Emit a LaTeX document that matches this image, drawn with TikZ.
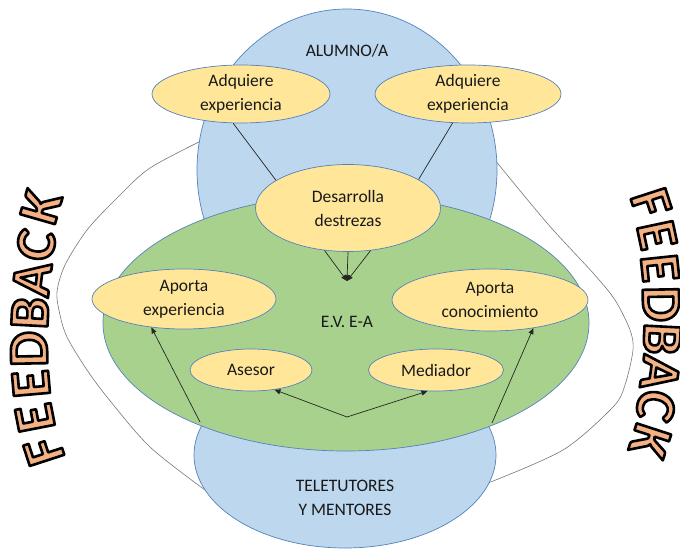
\documentclass[tikz,border=0pt]{standalone}
\usepackage{fontspec}
\setmainfont{Carlito}
\usetikzlibrary{shapes.geometric,arrows.meta}
\definecolor{bblue}{RGB}{189,215,238}
\definecolor{ggreen}{RGB}{169,209,142}
\definecolor{yyel}{RGB}{255,230,153}
\definecolor{edgeblue}{RGB}{84,130,188}
\definecolor{fborange}{RGB}{244,177,131}
\definecolor{loopgray}{RGB}{118,118,118}
\newcommand{\fbletter}[1]{\special{pdf:literal direct 0 0 0 RG 2.6 w 1 j 2 Tr}#1\special{pdf:literal direct 0 Tr}}
\begin{document}
\begin{tikzpicture}[x=1pt,y=-1pt,
  big/.style={ellipse, draw=edgeblue, line width=0.7pt, inner sep=0pt},
  bubble/.style={ellipse, draw=edgeblue, fill=yyel, line width=0.7pt, inner sep=0pt},
  lbl/.style={align=center, font=\fontsize{17.5}{24}\selectfont, inner sep=0pt, text=black!90},
  link/.style={draw=black!85, line width=0.7pt},
  arr/.style={link, -{Triangle[length=6pt,width=5pt]}},
  fbl/.style={text=fborange, inner sep=0pt, font=\fontsize{56}{56}\bfseries\selectfont},
  loopline/.style={draw=loopgray, line width=0.6pt}]
\useasboundingbox (0,0) rectangle (680,553);

% feedback loop lines
\draw[loopline] plot[smooth] coordinates {(205,139) (150,168) (118,197) (87,230) (65,265) (57,292) (60,315) (67,337) (85,367) (107,397) (150,447) (205,490)};
\draw[loopline] plot[smooth] coordinates {(490,154) (547,223) (593,273) (615,300) (630,330) (633,350) (625,385) (613,407) (563,450) (488,483)};

% big shapes
\node[big, fill=bblue, minimum width=300pt, minimum height=322pt] (alumno) at (347,170) {};
\node[big, fill=bblue, minimum width=302pt, minimum height=186pt] (tutor) at (345,455) {};
\node[big, fill=ggreen, minimum width=486pt, minimum height=256pt] (eve) at (346,323) {};

\node[lbl] (alumnoT) at (347,51) {ALUMNO/A};
\node[lbl] (tutorT) at (345,498) {TELETUTORES\\Y MENTORES};
\node[lbl] (eveT) at (347,322) {E.V. E-A};

% bubbles
\node[bubble, minimum width=178pt, minimum height=58pt] (adqL) at (241,94) {};
\node[lbl] (adqLt) at (adqL) {Adquiere\\experiencia};
\node[bubble, minimum width=186pt, minimum height=58pt] (adqR) at (468,94) {};
\node[lbl] (adqRt) at (adqR) {Adquiere\\experiencia};
\node[bubble, minimum width=185pt, minimum height=87pt] (des) at (348,208) {};
\node[lbl] (dest) at (des) {Desarrolla\\destrezas};
\node[bubble, minimum width=184pt, minimum height=60pt] (apExp) at (184,299) {};
\node[lbl] (apExpt) at (apExp) {Aporta\\experiencia};
\node[bubble, minimum width=196pt, minimum height=62pt] (apCon) at (490,300) {};
\node[lbl] (apCont) at (apCon) {Aporta\\conocimiento};
\node[bubble, minimum width=122pt, minimum height=42pt] (ases) at (251,370) {};
\node[lbl] (asest) at (ases) {Asesor};
\node[bubble, minimum width=135pt, minimum height=42pt] (med) at (436,370) {};
\node[lbl] (medt) at (med) {Mediador};

% connectors
\draw[link] (adqL.-105) -- (des.159);
\draw[link] (adqR.-118) -- (des.22);
\coordinate (conv) at (347,281);
\draw[arr] (des.-119) -- (conv);
\draw[arr] (des.south) -- (conv);
\draw[arr] (des.-62) -- (conv);
\coordinate (apex) at (347,417);
\draw[arr] (apex) -- (ases.-40);
\draw[arr] (apex) -- (med.-112);
\coordinate (s1) at (200,422);
\coordinate (s2) at (492,423);
\draw[arr] (s1) -- (apExp.-139);
\draw[arr] (s2) -- (apCon.-33);

% FEEDBACK texts
\foreach \ch/\px/\py/\r [count=\i] in {F/44/451/108, E/35/418/101, E/31/384/95, D/29/349/91, B/30/313/87, A/32/279/83, C/36/245/79, K/41/207/74}
  \node[fbl, rotate=\r] (fbL\i) at (\px,\py) {\fbletter{\ch}};
\foreach \ch/\px/\py/\r [count=\i] in {F/651/203/-72, E/657/235/-78, E/660/268/-84, D/661/304/-89, B/662/339/-93, A/660/373/-98, C/656/406/-103, K/650/441/-108}
  \node[fbl, rotate=\r] (fbR\i) at (\px,\py) {\fbletter{\ch}};
\end{tikzpicture}
\end{document}
